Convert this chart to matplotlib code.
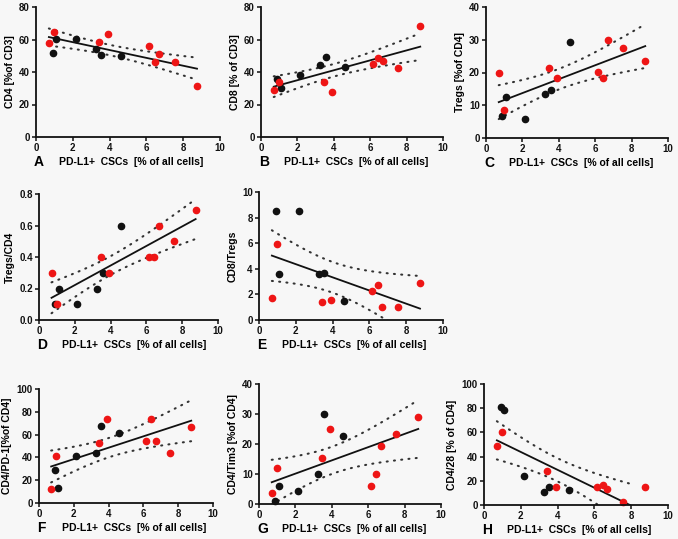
import numpy as np
import matplotlib
matplotlib.use('Agg')
import matplotlib.pyplot as plt

plt.rcParams['font.family'] = ['Liberation Sans', 'DejaVu Sans']
plt.rcParams['font.weight'] = 'bold'

# PD-L1+ CSCs [% of all cells], same patients in every panel
x_black = [0.9, 1.1, 2.15, 3.25, 3.55, 4.6]
x_red = [0.7, 1.0, 3.45, 3.9, 6.15, 6.45, 6.7, 7.55, 8.75]

# y values per panel (black group, red group)
cd4_black = [51.9, 60.3, 60.5, 54.0, 50.7, 49.8]
cd4_red = [58.0, 64.8, 58.5, 63.2, 56.0, 46.2, 50.9, 46.0, 31.6]

cd8_black = [35.5, 30.2, 38.2, 44.5, 49.2, 43.1]
cd8_red = [29.1, 33.8, 33.8, 27.7, 45.1, 48.8, 46.8, 42.5, 68.3]

tregs_black = [6.6, 12.6, 5.7, 13.3, 14.6, 29.3]
tregs_red = [19.9, 8.7, 21.3, 18.3, 20.2, 18.2, 30.0, 27.6, 23.6]

tregs_cd4_black = [0.1, 0.2, 0.1, 0.2, 0.3, 0.6]
tregs_cd4_red = [0.3, 0.1, 0.4, 0.3, 0.4, 0.4, 0.6, 0.5, 0.7]

cd8_tregs_black = [8.5, 3.6, 8.5, 3.6, 3.7, 1.5]
cd8_tregs_red = [1.7, 5.9, 1.4, 1.6, 2.3, 2.7, 1.0, 1.0, 2.9]

pd1_black = [28.7, 12.9, 41.5, 43.9, 67.8, 61.1]
pd1_red = [12.0, 41.0, 52.6, 74.0, 54.4, 74.0, 54.4, 43.6, 66.7]

tim3_black = [1.1, 6.0, 4.3, 10.1, 30.1, 22.7]
tim3_red = [3.8, 12.1, 15.5, 25.1, 5.9, 10.1, 19.2, 23.4, 29.1]

cd28_black = [80.7, 78.7, 24.0, 10.8, 14.6, 12.4]
cd28_red = [48.9, 60.2, 27.9, 14.6, 14.6, 16.3, 13.0, 2.8, 14.6]

panels = [
    # letter, ylabel, black, red, ymax, ystep, box in pixels (left, right, top, bottom)
    ('A', 'CD4 [%of CD3]', cd4_black, cd4_red, 80, 20, (36, 220, 7, 137)),
    ('B', 'CD8 [% of CD3]', cd8_black, cd8_red, 80, 20, (261, 443, 7, 137)),
    ('C', 'Tregs [%of CD4]', tregs_black, tregs_red, 40, 10, (486, 668, 7, 138)),
    ('D', 'Tregs/CD4', tregs_cd4_black, tregs_cd4_red, 0.8, 0.2, (39, 218, 194, 320)),
    ('E', 'CD8/Tregs', cd8_tregs_black, cd8_tregs_red, 10, 2, (259, 443, 192, 320)),
    ('F', 'CD4/PD-1[%of CD4]', pd1_black, pd1_red, 100, 20, (39, 213, 389, 503)),
    ('G', 'CD4/Tim3 [%of CD4]', tim3_black, tim3_red, 40, 10, (259, 441, 384, 504)),
    ('H', 'CD4/28 [% of CD4]', cd28_black, cd28_red, 100, 20, (484, 668, 384, 505)),
]

W, H = 678, 539
fig = plt.figure(figsize=(W / 100, H / 100), dpi=100)
fig.patch.set_facecolor('#f7f7f7')

t95 = 2.160  # t(0.975, df=13)

for letter, ylab, yb, yr, ymax, ystep, box in panels:
    l, r, t, b = box
    ax = fig.add_axes([l / W, 1 - b / H, (r - l) / W, (b - t) / H])
    ax.set_facecolor('#f7f7f7')

    # linear fit + 95% confidence band over all points
    x = np.array(x_black + x_red)
    y = np.array(yb + yr)
    n = len(x)
    slope, icpt = np.polyfit(x, y, 1)
    resid = y - (slope * x + icpt)
    s = np.sqrt(np.sum(resid ** 2) / (n - 2))
    sxx = np.sum((x - x.mean()) ** 2)
    x_end = x.max()
    if slope < 0 and -icpt / slope < x_end:
        x_end = -icpt / slope
    xs = np.linspace(x.min(), x_end, 100)
    ys = slope * xs + icpt
    half = t95 * s * np.sqrt(1 / n + (xs - x.mean()) ** 2 / sxx)

    ax.plot(xs, ys, color='#111111', lw=1.3)
    dots = (0, (0.5, 3.0))
    ax.plot(xs, ys + half, color='#333333', lw=1.5, linestyle=dots, dash_capstyle='round')
    ax.plot(xs, ys - half, color='#333333', lw=1.5, linestyle=dots, dash_capstyle='round')

    ax.plot(x_black, yb, 'o', color='#111111', ms=4.5, clip_on=False)
    ax.plot(x_red, yr, 'o', color='#ee1515', ms=4.5, clip_on=False)

    ax.set_xlim(0, 10)
    ax.set_ylim(0, ymax)
    ax.set_xticks(np.arange(0, 11, 2))
    yt = np.arange(0, ymax + ystep / 2, ystep)
    ax.set_yticks(yt)
    if ymax < 1:
        ax.set_yticklabels(['%.1f' % v for v in yt])
    for side in ['top', 'right']:
        ax.spines[side].set_visible(False)
    for side in ['left', 'bottom']:
        ax.spines[side].set_linewidth(1.3)
        ax.spines[side].set_color('#111111')
    ax.tick_params(length=3, width=1.1, labelsize=7, pad=1.5, colors='#111111')
    for lab in ax.get_xticklabels() + ax.get_yticklabels():
        lab.set_fontweight('bold')
    ax.set_ylabel(ylab, fontsize=7.5, fontweight='bold', labelpad=3)

    # panel letter and x label under the axis
    ty = 1 - (b + 25) / H
    ax_l = l / W
    fig.text(ax_l - 2 / W, ty, letter, fontsize=10, fontweight='bold', ha='left', va='center')
    fig.text(ax_l + 23 / W, ty, 'PD-L1+  CSCs  [% of all cells]', fontsize=7.5,
             fontweight='bold', ha='left', va='center')

fig.savefig('out.png', dpi=100, facecolor=fig.get_facecolor())
